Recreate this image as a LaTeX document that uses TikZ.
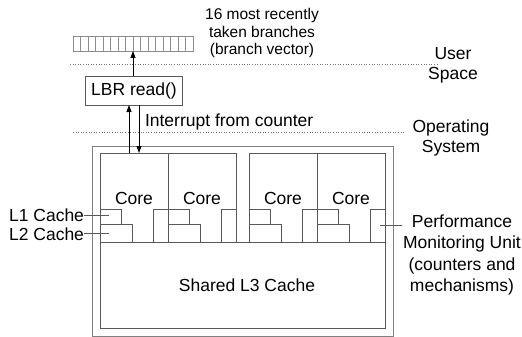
\documentclass[tikz,border=0pt]{standalone}
\usepackage{fontspec}
\setmainfont{Liberation Sans}
\usetikzlibrary{arrows.meta,calc}
\begin{document}
\begin{tikzpicture}[x=1pt,y=-1pt,
  every node/.style={inner sep=0pt,outer sep=0pt},
  lbl/.style={font=\fontsize{17.5}{21}\selectfont,align=center},
  boxline/.style={draw=black!65,line width=0.8pt},
  cell/.style={draw=black!45,line width=0.7pt},
  sep/.style={draw=black!55,line width=0.6pt,dotted},
  arr/.style={draw=black,line width=0.8pt,-{Triangle[length=7pt,width=5pt]}},
  ptr/.style={draw=black!65,line width=0.7pt}]
\useasboundingbox (0,0) rectangle (522,337);
% branch vector strip
\node[cell,minimum width=120pt,minimum height=15pt] (vec) at (133,43.5) {};
\foreach \i in {1,...,15} {\draw[cell] ($(vec.north west)+(\i*7.5,0)$) -- ($(vec.south west)+(\i*7.5,0)$);}
\node[font=\fontsize{15.5}{17.5}\selectfont,align=center] (vtxt) at (262,33) {16 most recently\\taken branches\\(branch vector)};
% separators
\coordinate (s1a) at (70,64); \coordinate (s1b) at (437,64);
\draw[sep] (s1a) -- (s1b);
\coordinate (s2a) at (73,132); \coordinate (s2b) at (405,132);
\draw[sep] (s2a) -- (s2b);
\node[lbl,font=\fontsize{17.5}{20}\selectfont] (user) at (453,65) {User\\Space};
\node[lbl,font=\fontsize{17.5}{20}\selectfont] (os) at (451,138) {Operating\\System};
% LBR read
\node[boxline,minimum width=97pt,minimum height=29pt,lbl] (lbr) at (134,90.5) {LBR read()};
\node[lbl,anchor=west] (intr) at (145,122) {Interrupt from counter};
% outer chip
\node[draw=black!50,line width=0.8pt,minimum width=301pt,minimum height=190pt] (chip) at (242.5,241) {};
\node[boxline,minimum width=285pt,minimum height=86pt] (l3) at (242.5,285) {};
\node[lbl] (l3t) at (247,285) {Shared L3 Cache};
% cores
\foreach \n/\x in {c1/100,c2/168,c3/249,c4/317} {
  \node[boxline,minimum width=68pt,minimum height=89pt] (\n) at (\x+34,197.5) {};
  \node[lbl] (\n t) at (\x+34,198) {Core};
  \node[boxline,minimum width=21pt,minimum height=15pt] (\n l1) at (\x+10.5,216.5) {};
  \node[boxline,minimum width=32pt,minimum height=18pt] (\n l2) at (\x+16,233) {};
  \node[boxline,minimum width=15pt,minimum height=33pt] (\n pmu) at (\x+60.5,225.5) {};
}
% arrows
\draw[arr] (c1.north -| 129,0) -- (lbr.south -| 129,0);
\draw[arr] (lbr.south -| 139,0) -- (c1.north -| 139,0);
\draw[arr] (lbr.north -| vec.south) -- (vec.south);
% side labels
\node[lbl,anchor=east] (l1lab) at (84,215) {L1 Cache};
\node[lbl,anchor=east] (l2lab) at (84,234) {L2 Cache};
\coordinate (l1p) at (109,215);
\coordinate (l2p) at (109,233);
\draw[ptr] (l1lab.east) -- (l1p);
\draw[ptr] (l2lab.east |- l2p) -- (l2p);
\node[lbl,font=\fontsize{17.5}{21.3}\selectfont] (pmu) at (462,255) {Performance\\Monitoring Unit\\(counters and\\mechanisms)};
\coordinate (pmup) at (380,225);
\coordinate (pmuq) at (402,225);
\draw[ptr] (pmup) -- (pmuq);
\end{tikzpicture}
\end{document}
